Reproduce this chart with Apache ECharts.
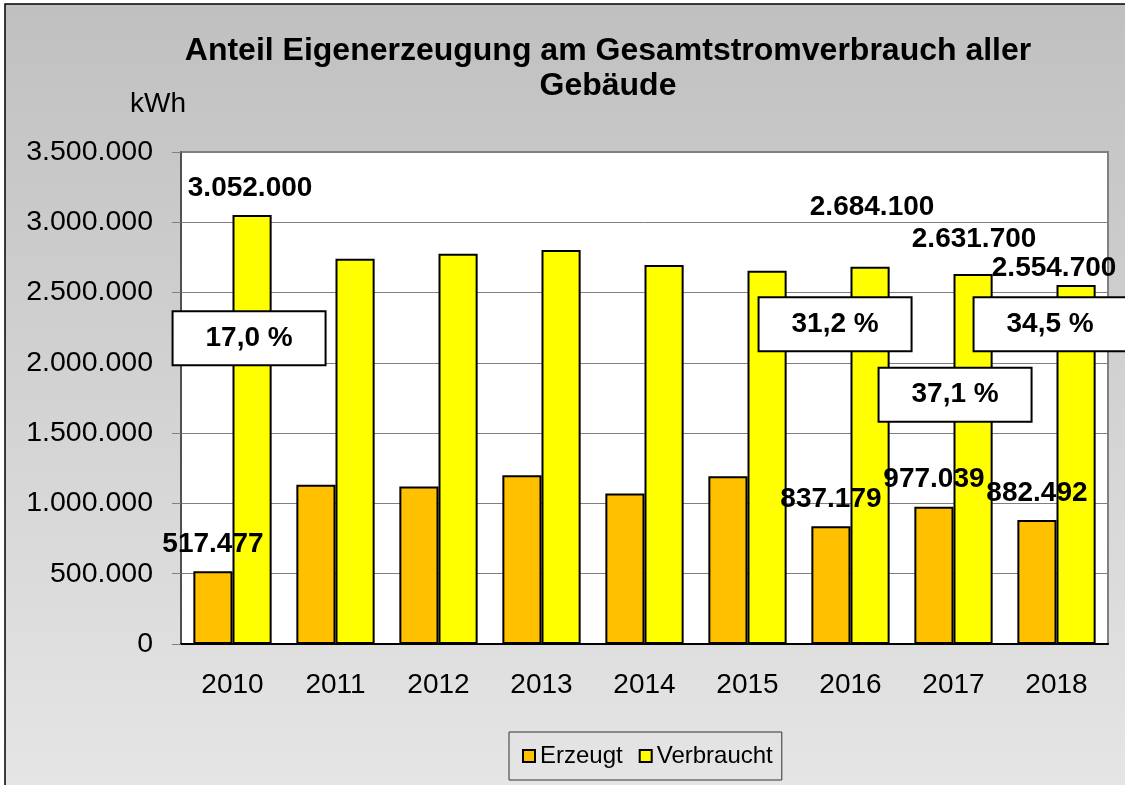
<!DOCTYPE html>
<html>
<head>
<meta charset="utf-8">
<title>Anteil Eigenerzeugung am Gesamtstromverbrauch</title>
<script src="https://cdn.jsdelivr.net/npm/echarts@6/dist/echarts.min.js"></script>
<style>
  html, body { margin: 0; padding: 0; background: #fff; }
  #chart { width: 1125px; height: 785px; }
</style>
</head>
<body>
<div id="chart"></div>
<script>
// Daten (kWh)
const years = ['2010', '2011', '2012', '2013', '2014', '2015', '2016', '2017', '2018'];
const erzeugt = [517477, 1132000, 1121000, 1201000, 1071000, 1194000, 837179, 977039, 882492];
const verbraucht = [3052000, 2741000, 2777000, 2802000, 2696000, 2656000, 2684100, 2631700, 2554700];
// Jahre mit Werte-Beschriftung und Prozent-Kasten
const labelYears = ['2010', '2016', '2017', '2018'];

const FONT = '"Liberation Sans", Arial, sans-serif';

// Lage der Beschriftungen (nur Layout)
const verbrauchtLabelOffset = { '2010': [-2, 0], '2016': [2, -32], '2017': [1, -8], '2018': [-22, 10] };
// Kasten-Mitte: y in kWh, dx relativ zur gelben Saeule
const boxLayout = {
  '2010': { y: 2175000, dx: -3 },
  '2016': { y: 2274000, dx: -35 },
  '2017': { y: 1773000, dx: -18 },
  '2018': { y: 2274000, dx: -26 }
};

// 3500000 -> "3.500.000"
function fmt(v) {
  return String(v).replace(/\B(?=(\d{3})+(?!\d))/g, '.');
}

function pct(i) {
  return (erzeugt[i] / verbraucht[i] * 100).toFixed(1).replace('.', ',') + ' %';
}

const labelStyle = {
  position: 'top',
  distance: 13,
  fontFamily: FONT,
  fontSize: 28,
  fontWeight: 'bold',
  color: '#000',
  formatter: p => fmt(p.value)
};

const erzeugtData = erzeugt.map((v, i) => {
  const show = labelYears.includes(years[i]);
  return { value: v, label: { show } };
});

const verbrauchtData = verbraucht.map((v, i) => {
  const y = years[i];
  if (!labelYears.includes(y)) return { value: v, label: { show: false } };
  return { value: v, label: { show: true, offset: verbrauchtLabelOffset[y] } };
});

const boxes = labelYears.map(y => {
  const i = years.indexOf(y);
  return {
    name: pct(i),
    coord: [y, boxLayout[y].y],
    symbolOffset: [boxLayout[y].dx, 0]
  };
});

const chart = echarts.init(document.getElementById('chart'), null, { renderer: 'canvas' });

const option = {
  backgroundColor: '#fff',
  animation: false,
  textStyle: { fontFamily: FONT },
  title: {
    text: 'Anteil Eigenerzeugung am Gesamtstromverbrauch aller\nGebäude',
    left: 603,
    top: 29,
    textAlign: 'center',
    textStyle: {
      fontFamily: FONT,
      fontSize: 32,
      fontWeight: 'bold',
      color: '#000',
      lineHeight: 35
    }
  },
  graphic: [
    {
      type: 'rect',
      z: -100,
      silent: true,
      shape: { x: 5, y: 4, width: 1130, height: 800 },
      style: {
        fill: new echarts.graphic.LinearGradient(0, 0, 0, 1, [
          { offset: 0, color: '#c0c0c0' },
          { offset: 1, color: '#e6e6e6' }
        ]),
        stroke: '#000',
        lineWidth: 1.5
      }
    },
    {
      type: 'text',
      x: 158,
      y: 104,
      style: {
        text: 'kWh',
        font: '28px ' + FONT,
        fill: '#000',
        align: 'center',
        verticalAlign: 'middle'
      }
    }
  ],
  legend: {
    left: 509,
    top: 732,
    padding: [12, 9, 12, 13],
    borderColor: '#333',
    borderWidth: 1,
    itemWidth: 12,
    itemHeight: 12,
    itemGap: 16,
    icon: 'rect',
    textStyle: { fontFamily: FONT, fontSize: 24, color: '#000' },
    data: ['Erzeugt', 'Verbraucht']
  },
  grid: {
    left: 181,
    right: 17,
    top: 152,
    bottom: 141,
    show: true,
    backgroundColor: '#fff',
    borderColor: '#808080',
    borderWidth: 2,
    outerBoundsMode: 'none'
  },
  xAxis: {
    type: 'category',
    data: years,
    axisLine: { lineStyle: { color: '#000', width: 2 } },
    axisTick: { length: 9, lineStyle: { color: '#808080', width: 1 } },
    axisLabel: { margin: 27, fontFamily: FONT, fontSize: 28, color: '#000' }
  },
  yAxis: {
    type: 'value',
    min: 0,
    max: 3500000,
    interval: 500000,
    axisLine: { show: true, lineStyle: { color: '#404040', width: 1.5 } },
    axisTick: { show: true, length: 9, lineStyle: { color: '#808080' } },
    splitLine: { lineStyle: { color: '#808080', width: 1 } },
    axisLabel: {
      margin: 28,
      fontFamily: FONT,
      fontSize: 28.5,
      color: '#000',
      formatter: v => fmt(v)
    }
  },
  series: [
    {
      name: 'Erzeugt',
      type: 'bar',
      z: 3,
      barGap: '0%',
      barCategoryGap: '24%',
      itemStyle: { color: '#ffc000', borderColor: '#000', borderWidth: 2 },
      label: labelStyle,
      data: erzeugtData
    },
    {
      name: 'Verbraucht',
      type: 'bar',
      z: 2,
      barGap: '0%',
      barCategoryGap: '24%',
      itemStyle: { color: '#ffff00', borderColor: '#000', borderWidth: 2 },
      label: labelStyle,
      data: verbrauchtData,
      markPoint: {
        z: 10,
        symbol: 'rect',
        symbolSize: 1,
        itemStyle: { color: 'rgba(0,0,0,0)', borderWidth: 0 },
        label: {
          show: true,
          position: 'inside',
          formatter: '{b}',
          fontFamily: FONT,
          fontSize: 28,
          fontWeight: 'bold',
          color: '#000',
          backgroundColor: '#fff',
          borderColor: '#000',
          borderWidth: 2,
          width: 151,
          height: 52,
          lineHeight: 52,
          padding: 0,
          align: 'center',
          verticalAlign: 'middle'
        },
        data: boxes
      }
    }
  ]
};

chart.setOption(option);
</script>
</body>
</html>
